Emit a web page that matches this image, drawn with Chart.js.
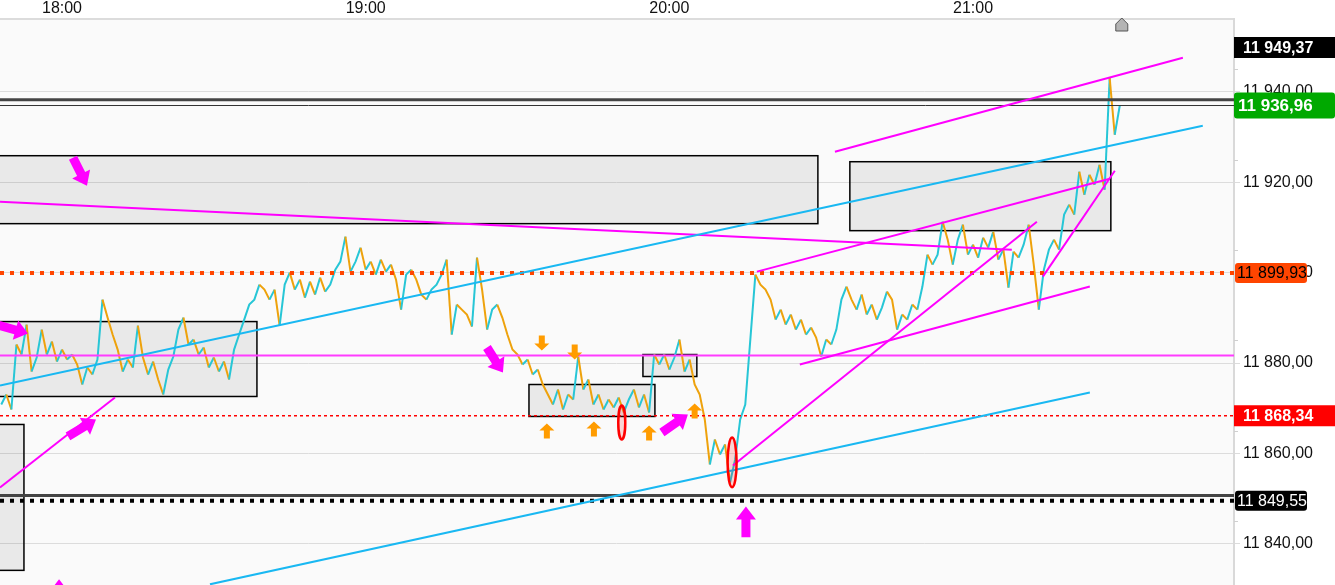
<!DOCTYPE html>
<html>
<head>
<meta charset="utf-8">
<script src="https://cdn.jsdelivr.net/npm/chart.js@4.4.1/dist/chart.umd.min.js"></script>
<style>
  html, body { margin: 0; padding: 0; background: #fff; }
  #wrap { position: relative; width: 1335px; height: 585px; }
</style>
</head>
<body>
<div id="wrap"><canvas id="chart"></canvas></div>
<script>
// minute ticks 17:48 - 21:29
var times = [
  '17:48','17:49','17:50','17:51','17:52','17:53','17:54','17:55','17:56','17:57','17:58','17:59',
  '18:00','18:01','18:02','18:03','18:04','18:05','18:06','18:07','18:08','18:09','18:10','18:11','18:12','18:13','18:14','18:15','18:16','18:17','18:18','18:19',
  '18:20','18:21','18:22','18:23','18:24','18:25','18:26','18:27','18:28','18:29','18:30','18:31','18:32','18:33','18:34','18:35','18:36','18:37','18:38','18:39',
  '18:40','18:41','18:42','18:43','18:44','18:45','18:46','18:47','18:48','18:49','18:50','18:51','18:52','18:53','18:54','18:55','18:56','18:57','18:58','18:59',
  '19:00','19:01','19:02','19:03','19:04','19:05','19:06','19:07','19:08','19:09','19:10','19:11','19:12','19:13','19:14','19:15','19:16','19:17','19:18','19:19',
  '19:20','19:21','19:22','19:23','19:24','19:25','19:26','19:27','19:28','19:29','19:30','19:31','19:32','19:33','19:34','19:35','19:36','19:37','19:38','19:39',
  '19:40','19:41','19:42','19:43','19:44','19:45','19:46','19:47','19:48','19:49','19:50','19:51','19:52','19:53','19:54','19:55','19:56','19:57','19:58','19:59',
  '20:00','20:01','20:02','20:03','20:04','20:05','20:06','20:07','20:08','20:09','20:10','20:11','20:12','20:13','20:14','20:15','20:16','20:17','20:18','20:19',
  '20:20','20:21','20:22','20:23','20:24','20:25','20:26','20:27','20:28','20:29','20:30','20:31','20:32','20:33','20:34','20:35','20:36','20:37','20:38','20:39',
  '20:40','20:41','20:42','20:43','20:44','20:45','20:46','20:47','20:48','20:49','20:50','20:51','20:52','20:53','20:54','20:55','20:56','20:57','20:58','20:59',
  '21:00','21:01','21:02','21:03','21:04','21:05','21:06','21:07','21:08','21:09','21:10','21:11','21:12','21:13','21:14','21:15','21:16','21:17','21:18','21:19',
  '21:20','21:21','21:22','21:23','21:24','21:25','21:26','21:27','21:28','21:29'
];
var prices = [
  11870.83,11873.04,11869.72,11884.09,11881.88,11888.51,11878.12,11881.22,11887.40,11881.88,11884.75,11880.33,
  11882.98,11880.77,11881.88,11879.67,11875.25,11879.01,11877.46,11880.77,11894.03,11890.06,11886.30,11882.98,11878.12,11880.77,11879.01,11888.29,11881.22,11877.46,11880.33,11876.35,
  11873.04,11878.56,11881.44,11887.40,11890.06,11884.09,11885.19,11881.88,11883.43,11879.01,11881.22,11878.12,11880.33,11876.35,11882.98,11886.30,11889.61,11892.93,11894.03,11897.35,
  11896.24,11894.03,11896.24,11888.29,11897.35,11900.00,11896.24,11898.45,11894.47,11898.01,11895.14,11898.89,11895.80,11897.35,11900.66,11902.43,11907.96,11900.22,11902.43,11905.52,
  11900.66,11902.43,11899.56,11902.87,11900.22,11901.77,11898.45,11891.82,11899.56,11900.66,11898.45,11895.14,11894.03,11896.24,11897.35,11899.56,11902.87,11886.30,11892.93,11891.82,
  11890.72,11888.07,11903.31,11896.24,11887.40,11891.82,11892.93,11890.06,11886.30,11882.98,11881.88,11879.67,11880.77,11877.46,11878.56,11875.25,11873.04,11870.83,11874.14,11869.72,
  11873.04,11871.93,11881.44,11874.14,11876.35,11870.83,11873.04,11869.72,11871.93,11870.17,11872.38,11869.06,11871.93,11874.14,11870.17,11873.04,11869.06,11881.88,11879.67,11881.88,
  11878.56,11881.22,11885.19,11878.12,11880.77,11875.25,11873.04,11867.51,11857.57,11863.09,11859.78,11861.99,11853.59,11858.67,11867.51,11870.83,11885.19,11899.56,11897.35,11896.24,
  11894.03,11889.61,11891.82,11888.51,11890.72,11887.40,11889.61,11886.30,11887.85,11885.64,11881.44,11885.19,11884.09,11887.40,11894.03,11896.91,11894.03,11891.82,11895.14,11890.72,
  11892.93,11889.61,11892.26,11895.80,11894.03,11887.40,11890.72,11889.61,11892.93,11891.82,11896.91,11903.98,11901.77,11903.98,11911.27,11907.29,11901.77,11907.29,11910.61,11903.98,
  11906.19,11903.31,11907.73,11905.52,11909.06,11902.87,11905.08,11896.69,11904.64,11903.31,11906.19,11910.61,11901.77,11891.82,11900.66,11905.08,11907.29,11905.08,11912.82,11915.03,
  11912.82,11922.32,11917.24,11921.66,11919.45,11923.87,11918.34,11943.09,11930.50,11936.96
];

var timeTicks = ['18:00', '19:00', '20:00', '21:00'];
var priceTicks = [11840, 11860, 11880, 11900, 11920, 11940];
var minorTicks = [11845, 11865, 11885, 11905, 11925, 11945];
var viewFrom = '17:47:45', viewTo = '21:51:34';
var priceMin = 11830.9, priceMax = 11956.1;

// grey zones: [from, to, top, bottom]
var zones = [
  ['17:30:00', '20:29:21', 11925.86, 11910.83],
  ['20:35:40', '21:27:14', 11924.53, 11909.28],
  ['17:30:00', '18:38:31', 11889.17, 11872.60],
  ['17:30:00', '17:52:29', 11866.41, 11834.14],
  ['19:32:16', '19:57:09', 11875.25, 11868.18],
  ['19:54:47', '20:05:26', 11881.88, 11877.02]
];

// trend lines: [t1, p1, t2, p2]
var magentaLines = [
  ['17:47:45', 11915.69, '21:07:40', 11905.08],
  ['20:32:43', 11926.74, '21:41:28', 11947.51],
  ['20:17:18', 11900.22, '21:27:02', 11920.77],
  ['21:13:48', 11899.12, '21:28:01', 11922.54],
  ['20:12:34', 11857.35, '21:12:37', 11911.27],
  ['20:25:47', 11879.67, '21:23:05', 11896.91],
  ['17:47:45', 11852.49, '18:10:28', 11872.37]
];
var blueLines = [
  ['17:47:45', 11875.03, '21:45:24', 11932.49],
  ['18:29:14', 11831.05, '21:23:05', 11873.48]
];

// horizontal levels
var levelDark = [11938.23, 11850.72];
var levelLast = 11936.96;
var levelOrange = 11899.93;
var levelMagenta = 11881.66;
var levelRed = 11868.34;
var levelBlack = 11849.55;

// fat magenta arrows: [tailTime, tailPrice, tipTime, tipPrice]
var magentaArrows = [
  ['18:02:10', 11925.41, '18:04:56', 11919.23],
  ['17:46:58', 11888.51, '17:53:17', 11886.52],
  ['18:01:11', 11863.76, '18:06:43', 11867.51],
  ['19:23:58', 11883.43, '19:27:07', 11877.90],
  ['19:58:32', 11864.64, '20:03:40', 11868.62],
  ['20:15:08', 11841.44, '20:15:08', 11848.29],
  ['17:59:25', 11827.74, '17:59:25', 11832.16]
];
// orange arrows: tip time, tip price
var orangeDown = [['19:34:48', 11882.77], ['19:41:18', 11880.77]];
var orangeUp = [['19:35:48', 11866.63], ['19:45:06', 11867.07], ['19:56:00', 11866.19], ['20:05:00', 11871.05]];
// red ellipses: time, top, bottom
var ellipses = [['19:50:36', 11870.6, 11863.1], ['20:12:24', 11863.5, 11852.5]];

// price tags on the axis
var tagPrices = [11949.37, 11936.96, 11899.93, 11868.34, 11849.55];

var FONT = "'Liberation Sans', Arial, sans-serif";
var TEAL = '#27c6d6', ORANGE = '#eea20c', MAGENTA = '#ff00ff', BLUE = '#19b8f2';

function tmin(s) {
  var a = s.split(':');
  return (+a[0]) * 60 + (+a[1]) + (a[2] ? (+a[2]) / 60 : 0);
}

function fmt(v) {
  var s = v.toFixed(2).split('.');
  return s[0].replace(/\B(?=(\d{3})+(?!\d))/g, ' ') + ',' + s[1];
}

function X(chart, t) { return chart.scales.x.getPixelForValue(tmin(t)); }
function Y(chart, p) { return chart.scales.y.getPixelForValue(p); }

function blockArrow(ctx, x0, y0, x1, y1, sw, hw, hl) {
  var dx = x1 - x0, dy = y1 - y0, L = Math.hypot(dx, dy);
  var ux = dx / L, uy = dy / L, nx = -uy, ny = ux;
  var bx = x1 - ux * hl, by = y1 - uy * hl;
  ctx.beginPath();
  ctx.moveTo(x0 + nx * sw, y0 + ny * sw);
  ctx.lineTo(bx + nx * sw, by + ny * sw);
  ctx.lineTo(bx + nx * hw, by + ny * hw);
  ctx.lineTo(x1, y1);
  ctx.lineTo(bx - nx * hw, by - ny * hw);
  ctx.lineTo(bx - nx * sw, by - ny * sw);
  ctx.lineTo(x0 - nx * sw, y0 - ny * sw);
  ctx.closePath();
  ctx.fill();
}

function hline(ctx, area, y, color, width, dash) {
  ctx.save();
  ctx.strokeStyle = color;
  ctx.lineWidth = width;
  ctx.setLineDash(dash || []);
  ctx.beginPath();
  ctx.moveTo(area.left, y);
  ctx.lineTo(area.right, y);
  ctx.stroke();
  ctx.restore();
}

function roundRect(ctx, x, y, w, h, r) {
  ctx.beginPath();
  ctx.moveTo(x + r, y);
  ctx.lineTo(x + w - r, y);
  ctx.quadraticCurveTo(x + w, y, x + w, y + r);
  ctx.lineTo(x + w, y + h - r);
  ctx.quadraticCurveTo(x + w, y + h, x + w - r, y + h);
  ctx.lineTo(x + r, y + h);
  ctx.quadraticCurveTo(x, y + h, x, y + h - r);
  ctx.lineTo(x, y + r);
  ctx.quadraticCurveTo(x, y, x + r, y);
  ctx.closePath();
}

var overlay = {
  id: 'overlay',
  beforeDraw: function(chart) {
    var ctx = chart.ctx, a = chart.chartArea;
    ctx.save();
    ctx.fillStyle = '#fafafa';
    ctx.fillRect(a.left, a.top, a.right - a.left, a.bottom - a.top);
    ctx.restore();
  },
  beforeDatasetsDraw: function(chart) {
    var ctx = chart.ctx, a = chart.chartArea;
    ctx.save();
    ctx.beginPath();
    ctx.rect(a.left, a.top, a.right - a.left, a.bottom - a.top);
    ctx.clip();
    zones.forEach(function(z) {
      var x0 = X(chart, z[0]), x1 = X(chart, z[1]), y0 = Y(chart, z[2]), y1 = Y(chart, z[3]);
      ctx.fillStyle = 'rgba(0,0,0,0.065)';
      ctx.fillRect(x0, y0, x1 - x0, y1 - y0);
      ctx.strokeStyle = '#000';
      ctx.lineWidth = 1.5;
      ctx.strokeRect(x0, y0, x1 - x0, y1 - y0);
    });
    ctx.restore();
  },
  afterDatasetsDraw: function(chart) {
    var ctx = chart.ctx, a = chart.chartArea;
    ctx.save();
    ctx.beginPath();
    ctx.rect(a.left, a.top, a.right - a.left, a.bottom - a.top);
    ctx.clip();

    // levels
    levelDark.forEach(function(p) { hline(ctx, a, Y(chart, p), '#444', 3); });
    hline(ctx, a, Y(chart, levelLast), '#333', 1);
    hline(ctx, a, Y(chart, levelOrange), '#ff4500', 4, [4, 6]);
    hline(ctx, a, Y(chart, levelMagenta), '#ff3cff', 2);
    hline(ctx, a, Y(chart, levelRed), '#ff0000', 1.5, [3, 3]);
    hline(ctx, a, Y(chart, levelBlack), '#000', 4, [4, 6]);

    // trend lines
    ctx.lineWidth = 2;
    [[magentaLines, MAGENTA], [blueLines, BLUE]].forEach(function(g) {
      ctx.strokeStyle = g[1];
      g[0].forEach(function(l) {
        ctx.beginPath();
        ctx.moveTo(X(chart, l[0]), Y(chart, l[1]));
        ctx.lineTo(X(chart, l[2]), Y(chart, l[3]));
        ctx.stroke();
      });
    });

    // arrows
    ctx.fillStyle = MAGENTA;
    magentaArrows.forEach(function(r) {
      blockArrow(ctx, X(chart, r[0]), Y(chart, r[1]), X(chart, r[2]), Y(chart, r[3]), 4.5, 10, 13);
    });
    ctx.fillStyle = '#ff9c00';
    orangeDown.forEach(function(r) {
      var x = X(chart, r[0]), y = Y(chart, r[1]);
      blockArrow(ctx, x, y - 15, x, y, 3, 7.5, 7);
    });
    orangeUp.forEach(function(r) {
      var x = X(chart, r[0]), y = Y(chart, r[1]);
      blockArrow(ctx, x, y + 15, x, y, 3, 7.5, 7);
    });

    // red ellipses
    ellipses.forEach(function(e, i) {
      var x = X(chart, e[0]), y0 = Y(chart, e[1]), y1 = Y(chart, e[2]);
      ctx.beginPath();
      ctx.ellipse(x, (y0 + y1) / 2, i ? 4.5 : 3.5, (y1 - y0) / 2, 0, 0, Math.PI * 2);
      ctx.fillStyle = 'rgba(255,0,0,0.15)';
      ctx.fill();
      ctx.strokeStyle = '#ff0000';
      ctx.lineWidth = 2.5;
      ctx.stroke();
    });
    ctx.restore();
  },
  afterDraw: function(chart) {
    var ctx = chart.ctx, a = chart.chartArea, ys = chart.scales.y;
    ctx.save();
    // minor ticks on the price axis
    ctx.strokeStyle = '#d0d0d0';
    ctx.lineWidth = 1;
    minorTicks.forEach(function(p) {
      var y = Math.round(Y(chart, p)) + 0.5;
      ctx.beginPath();
      ctx.moveTo(ys.left, y);
      ctx.lineTo(ys.left + 4, y);
      ctx.stroke();
    });

    // price tags
    var styles = [
      { bg: '#000', fg: '#fff', bold: true, size: 16, w: 101, h: 21, tx: 9, r: 0, dy: -2 },
      { bg: '#00a900', fg: '#fff', bold: true, size: 17, w: 101, h: 26, tx: 4, r: 3, dy: 0 },
      { bg: '#ff4500', fg: '#000', bold: false, size: 16, w: 72, h: 20, tx: 2, r: 3, dy: 0 },
      { bg: '#ff0000', fg: '#fff', bold: true, size: 16, w: 101, h: 21, tx: 9, r: 0, dy: 0 },
      { bg: '#000', fg: '#fff', bold: false, size: 16, w: 72, h: 20, tx: 2, r: 3, dy: 0 }
    ];
    tagPrices.forEach(function(p, i) {
      var s = styles[i];
      var y = Y(chart, p) + s.dy;
      var x = a.right + (s.w < 101 ? 1 : 0);
      ctx.fillStyle = s.bg;
      roundRect(ctx, x, y - s.h / 2, s.w, s.h, s.r);
      ctx.fill();
      ctx.fillStyle = s.fg;
      ctx.font = (s.bold ? 'bold ' : '') + s.size + 'px ' + FONT;
      ctx.textBaseline = 'middle';
      ctx.textAlign = 'left';
      ctx.fillText(fmt(p), x + s.tx, y + 1);
    });

    // marker above the last tick
    var lx = X(chart, times[times.length - 1]) + 2, ty = a.top - 1;
    ctx.beginPath();
    ctx.moveTo(lx - 6, ty + 13);
    ctx.lineTo(lx - 6, ty + 6);
    ctx.lineTo(lx, ty);
    ctx.lineTo(lx + 6, ty + 6);
    ctx.lineTo(lx + 6, ty + 13);
    ctx.closePath();
    ctx.fillStyle = '#b4b4b4';
    ctx.fill();
    ctx.strokeStyle = '#555';
    ctx.lineWidth = 1;
    ctx.stroke();
    ctx.restore();
  }
};

var points = times.map(function(t, i) { return { x: tmin(t), y: prices[i] }; });

new Chart(document.getElementById('chart'), {
  type: 'line',
  data: {
    datasets: [{
      data: points,
      borderColor: TEAL,
      borderWidth: 2,
      pointRadius: 0,
      tension: 0,
      segment: {
        borderColor: function(c) { return c.p1.parsed.y >= c.p0.parsed.y ? TEAL : ORANGE; }
      }
    }]
  },
  options: {
    responsive: true,
    maintainAspectRatio: false,
    animation: false,
    layout: { padding: 0 },
    plugins: { legend: { display: false }, tooltip: { enabled: false } },
    scales: {
      x: {
        type: 'linear',
        position: 'top',
        min: tmin(viewFrom),
        max: tmin(viewTo),
        afterBuildTicks: function(s) { s.ticks = timeTicks.map(function(t) { return { value: tmin(t) }; }); },
        afterFit: function(s) { s.height = 19; s.paddingLeft = 0; s.paddingRight = 0; },
        grid: { display: false, drawTicks: false, tickLength: 0 },
        border: { display: true, color: '#dcdcdc', width: 2 },
        ticks: {
          color: '#111', font: { family: FONT, size: 16 }, padding: 1, maxRotation: 0, autoSkip: false,
          callback: function(v, i) { return timeTicks[i]; }
        }
      },
      y: {
        position: 'right',
        min: priceMin,
        max: priceMax,
        afterBuildTicks: function(s) { s.ticks = priceTicks.map(function(v) { return { value: v }; }); },
        afterFit: function(s) { s.width = 101; s.paddingTop = 0; s.paddingBottom = 0; },
        grid: { color: '#dcdcdc', lineWidth: 1, tickLength: 6 },
        border: { display: true, color: '#d9d9d9', width: 2 },
        ticks: {
          color: '#111', font: { family: FONT, size: 16 }, padding: 3,
          callback: function(v) { return fmt(v); }
        }
      }
    }
  },
  plugins: [overlay]
});
</script>
</body>
</html>
